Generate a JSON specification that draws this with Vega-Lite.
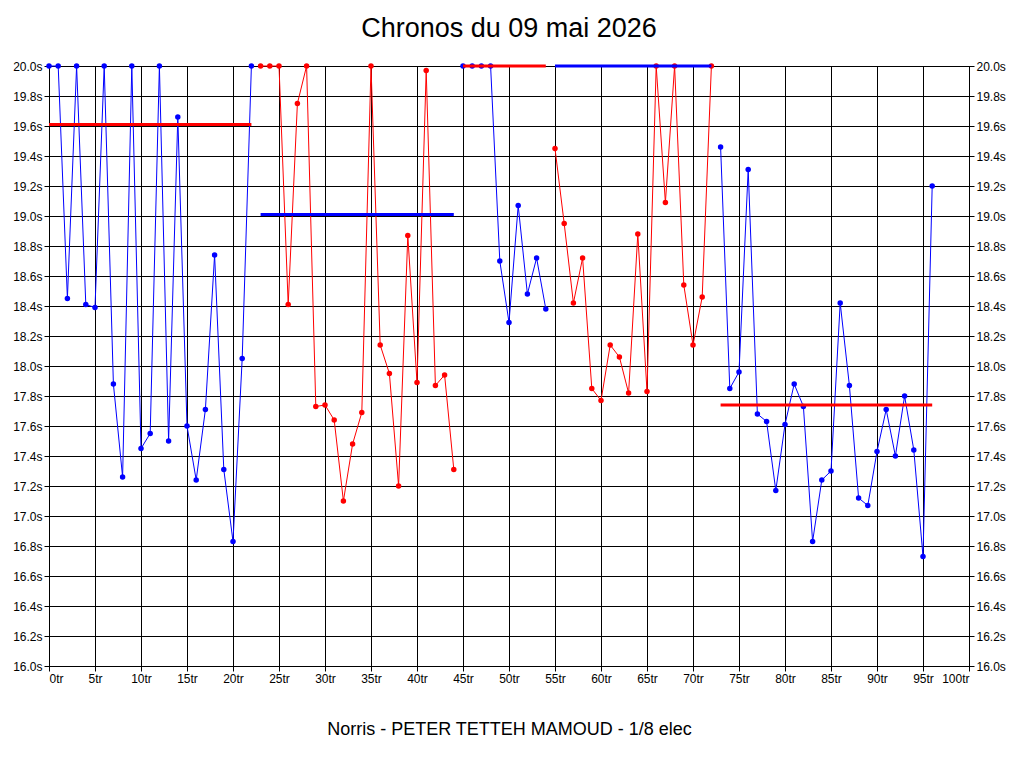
{
  "$schema": "https://vega.github.io/schema/vega-lite/v6.json",
  "width": 920,
  "height": 600,
  "autosize": "none",
  "padding": {"left": 49, "top": 66, "right": 55, "bottom": 102},
  "background": "white",
  "title": {"text": "Chronos du 09 mai 2026", "fontSize": 27, "font": "Liberation Sans", "fontWeight": "normal", "color": "black", "offset": 17},
  "config": {
    "view": {"stroke": "black", "strokeWidth": 1},
    "axis": {"labelFont": "Liberation Sans", "labelFontSize": 12, "labelColor": "black", "gridColor": "black", "gridOpacity": 1, "domainColor": "black", "tickColor": "black", "tickSize": 5}
  },
  "datasets": {
    "pts": [
      {"tr":0,"t":20.0,"seg":1,"col":"b"},{"tr":1,"t":20.0,"seg":1,"col":"b"},{"tr":2,"t":18.45,"seg":1,"col":"b"},{"tr":3,"t":20.0,"seg":1,"col":"b"},{"tr":4,"t":18.41,"seg":1,"col":"b"},{"tr":5,"t":18.39,"seg":1,"col":"b"},{"tr":6,"t":20.0,"seg":1,"col":"b"},{"tr":7,"t":17.88,"seg":1,"col":"b"},{"tr":8,"t":17.26,"seg":1,"col":"b"},{"tr":9,"t":20.0,"seg":1,"col":"b"},{"tr":10,"t":17.45,"seg":1,"col":"b"},{"tr":11,"t":17.55,"seg":1,"col":"b"},{"tr":12,"t":20.0,"seg":1,"col":"b"},{"tr":13,"t":17.50,"seg":1,"col":"b"},{"tr":14,"t":19.66,"seg":1,"col":"b"},{"tr":15,"t":17.60,"seg":1,"col":"b"},{"tr":16,"t":17.24,"seg":1,"col":"b"},{"tr":17,"t":17.71,"seg":1,"col":"b"},{"tr":18,"t":18.74,"seg":1,"col":"b"},{"tr":19,"t":17.31,"seg":1,"col":"b"},{"tr":20,"t":16.83,"seg":1,"col":"b"},{"tr":21,"t":18.05,"seg":1,"col":"b"},{"tr":22,"t":20.0,"seg":1,"col":"b"},
      {"tr":23,"t":20.0,"seg":2,"col":"r"},{"tr":24,"t":20.0,"seg":2,"col":"r"},{"tr":25,"t":20.0,"seg":2,"col":"r"},{"tr":26,"t":18.41,"seg":2,"col":"r"},{"tr":27,"t":19.75,"seg":2,"col":"r"},{"tr":28,"t":20.0,"seg":2,"col":"r"},{"tr":29,"t":17.73,"seg":2,"col":"r"},{"tr":30,"t":17.74,"seg":2,"col":"r"},{"tr":31,"t":17.64,"seg":2,"col":"r"},{"tr":32,"t":17.10,"seg":2,"col":"r"},{"tr":33,"t":17.48,"seg":2,"col":"r"},{"tr":34,"t":17.69,"seg":2,"col":"r"},{"tr":35,"t":20.0,"seg":2,"col":"r"},{"tr":36,"t":18.14,"seg":2,"col":"r"},{"tr":37,"t":17.95,"seg":2,"col":"r"},{"tr":38,"t":17.20,"seg":2,"col":"r"},{"tr":39,"t":18.87,"seg":2,"col":"r"},{"tr":40,"t":17.89,"seg":2,"col":"r"},{"tr":41,"t":19.97,"seg":2,"col":"r"},{"tr":42,"t":17.87,"seg":2,"col":"r"},{"tr":43,"t":17.94,"seg":2,"col":"r"},{"tr":44,"t":17.31,"seg":2,"col":"r"},
      {"tr":45,"t":20.0,"seg":3,"col":"b"},{"tr":46,"t":20.0,"seg":3,"col":"b"},{"tr":47,"t":20.0,"seg":3,"col":"b"},{"tr":48,"t":20.0,"seg":3,"col":"b"},{"tr":49,"t":18.70,"seg":3,"col":"b"},{"tr":50,"t":18.29,"seg":3,"col":"b"},{"tr":51,"t":19.07,"seg":3,"col":"b"},{"tr":52,"t":18.48,"seg":3,"col":"b"},{"tr":53,"t":18.72,"seg":3,"col":"b"},{"tr":54,"t":18.38,"seg":3,"col":"b"},
      {"tr":55,"t":19.45,"seg":4,"col":"r"},{"tr":56,"t":18.95,"seg":4,"col":"r"},{"tr":57,"t":18.42,"seg":4,"col":"r"},{"tr":58,"t":18.72,"seg":4,"col":"r"},{"tr":59,"t":17.85,"seg":4,"col":"r"},{"tr":60,"t":17.77,"seg":4,"col":"r"},{"tr":61,"t":18.14,"seg":4,"col":"r"},{"tr":62,"t":18.06,"seg":4,"col":"r"},{"tr":63,"t":17.82,"seg":4,"col":"r"},{"tr":64,"t":18.88,"seg":4,"col":"r"},{"tr":65,"t":17.83,"seg":4,"col":"r"},{"tr":66,"t":20.0,"seg":4,"col":"r"},{"tr":67,"t":19.09,"seg":4,"col":"r"},{"tr":68,"t":20.0,"seg":4,"col":"r"},{"tr":69,"t":18.54,"seg":4,"col":"r"},{"tr":70,"t":18.14,"seg":4,"col":"r"},{"tr":71,"t":18.46,"seg":4,"col":"r"},{"tr":72,"t":20.0,"seg":4,"col":"r"},
      {"tr":73,"t":19.46,"seg":5,"col":"b"},{"tr":74,"t":17.85,"seg":5,"col":"b"},{"tr":75,"t":17.96,"seg":5,"col":"b"},{"tr":76,"t":19.31,"seg":5,"col":"b"},{"tr":77,"t":17.68,"seg":5,"col":"b"},{"tr":78,"t":17.63,"seg":5,"col":"b"},{"tr":79,"t":17.17,"seg":5,"col":"b"},{"tr":80,"t":17.61,"seg":5,"col":"b"},{"tr":81,"t":17.88,"seg":5,"col":"b"},{"tr":82,"t":17.73,"seg":5,"col":"b"},{"tr":83,"t":16.83,"seg":5,"col":"b"},{"tr":84,"t":17.24,"seg":5,"col":"b"},{"tr":85,"t":17.30,"seg":5,"col":"b"},{"tr":86,"t":18.42,"seg":5,"col":"b"},{"tr":87,"t":17.87,"seg":5,"col":"b"},{"tr":88,"t":17.12,"seg":5,"col":"b"},{"tr":89,"t":17.07,"seg":5,"col":"b"},{"tr":90,"t":17.43,"seg":5,"col":"b"},{"tr":91,"t":17.71,"seg":5,"col":"b"},{"tr":92,"t":17.40,"seg":5,"col":"b"},{"tr":93,"t":17.80,"seg":5,"col":"b"},{"tr":94,"t":17.44,"seg":5,"col":"b"},{"tr":95,"t":16.73,"seg":5,"col":"b"},{"tr":96,"t":19.20,"seg":5,"col":"b"}
    ],
    "avg": [
      {"tr":0,"tr2":22,"t":19.61,"col":"r"},
      {"tr":23,"tr2":44,"t":19.01,"col":"b"},
      {"tr":45,"tr2":54,"t":20.0,"col":"r"},
      {"tr":55,"tr2":72,"t":20.0,"col":"b"},
      {"tr":73,"tr2":96,"t":17.74,"col":"r"}
    ]
  },
  "resolve": {"axis": {"y": "independent"}},
  "layer": [
    {
      "data": {"name": "pts"},
      "mark": {"type": "line", "strokeWidth": 1, "clip": false},
      "encoding": {
        "x": {"field": "tr", "type": "quantitative", "scale": {"domain": [0, 100], "nice": false},
          "axis": {"values": [0,5,10,15,20,25,30,35,40,45,50,55,60,65,70,75,80,85,90,95,100], "labelExpr": "datum.value + 'tr'", "title": "Norris - PETER TETTEH MAMOUD - 1/8 elec", "titleFont": "Liberation Sans", "titleFontSize": 18, "titleFontWeight": "normal", "titleColor": "black", "titlePadding": 36}},
        "y": {"field": "t", "type": "quantitative", "scale": {"domain": [16, 20], "nice": false, "zero": false},
          "axis": {"orient": "left", "values": [16,16.2,16.4,16.6,16.8,17,17.2,17.4,17.6,17.8,18,18.2,18.4,18.6,18.8,19,19.2,19.4,19.6,19.8,20], "labelExpr": "format(datum.value, '.1f') + 's'", "title": null}},
        "color": {"field": "col", "type": "nominal", "scale": {"domain": ["b", "r"], "range": ["#0000ff", "#ff0000"]}, "legend": null},
        "detail": {"field": "seg"}
      }
    },
    {
      "data": {"name": "pts"},
      "mark": {"type": "point", "filled": true, "size": 30, "opacity": 1, "clip": false},
      "encoding": {
        "x": {"field": "tr", "type": "quantitative"},
        "y": {"field": "t", "type": "quantitative",
          "axis": {"orient": "right", "values": [16,16.2,16.4,16.6,16.8,17,17.2,17.4,17.6,17.8,18,18.2,18.4,18.6,18.8,19,19.2,19.4,19.6,19.8,20], "labelExpr": "format(datum.value, '.1f') + 's'", "title": null, "grid": false}},
        "color": {"field": "col", "type": "nominal", "legend": null}
      }
    },
    {
      "data": {"name": "avg"},
      "mark": {"type": "rule", "strokeWidth": 3},
      "encoding": {
        "x": {"field": "tr", "type": "quantitative"},
        "x2": {"field": "tr2"},
        "y": {"field": "t", "type": "quantitative", "axis": null},
        "color": {"field": "col", "type": "nominal", "legend": null}
      }
    }
  ]
}
